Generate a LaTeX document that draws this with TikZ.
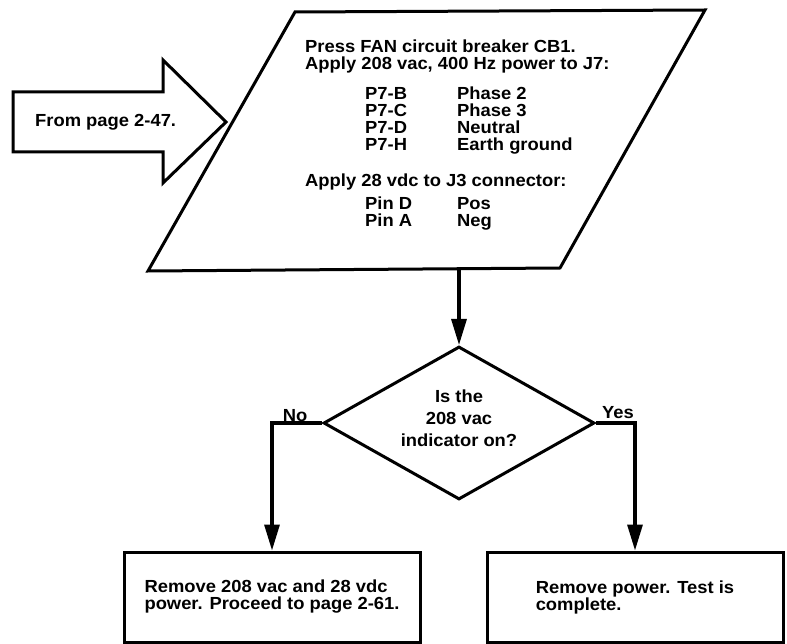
\documentclass[tikz,border=0pt]{standalone}
\usepackage{fontspec}
\setmainfont{Liberation Sans}[FakeStretch=1.05]
\usetikzlibrary{arrows.meta,shapes.geometric}
\begin{document}
\begin{tikzpicture}[x=1pt,y=-1pt,
  outline/.style={draw=black,line width=3pt,line join=miter},
  txt/.style={inner sep=0pt,font=\fontsize{17.5}{18}\bfseries},
  rowtxt/.style={txt,anchor=base west},
  flow/.style={draw=black,line width=3.2pt,-{Triangle[length=26pt,width=15pt]}},
  decision/.style={outline,diamond,minimum width=271pt,minimum height=153pt,inner sep=0pt},
  stepbox/.style={outline,rectangle,minimum width=296pt,minimum height=90pt,
    inner sep=0pt,align=left,font=\fontsize{17.5}{17}\bfseries},
  branch/.style={inner sep=0pt,anchor=base,font=\fontsize{17.5}{18}\bfseries}
]
\useasboundingbox (0,0) rectangle (787,644);

% entry arrow
\draw[outline] (13,92) -- (163,92) -- (163,60) -- (226,122) -- (163,183)
  -- (163,152) -- (13,152) -- cycle;
\node[txt,anchor=west] (from) at (35,122) {From page 2-47.};

% input/setup parallelogram
\draw[outline] (295,12) -- (705,10) -- (560,268) -- (148,271) -- cycle;
\coordinate (pout) at (459,269);

\node[rowtxt] (l1) at (305,53) {Press FAN circuit breaker CB1.};
\node[rowtxt] (l2) at (305,70) {Apply 208 vac, 400 Hz power to J7:};
\node[rowtxt] (pb) at (365,100) {\makebox[92pt][l]{P7-B}Phase 2};
\node[rowtxt] (pc) at (365,117) {\makebox[92pt][l]{P7-C}Phase 3};
\node[rowtxt] (pd) at (365,134) {\makebox[92pt][l]{P7-D}Neutral};
\node[rowtxt] (ph) at (365,151) {\makebox[92pt][l]{P7-H}Earth ground};
\node[rowtxt] (l3) at (305,187) {Apply 28 vdc to J3 connector:};
\node[rowtxt] (pind) at (365,210) {\makebox[92pt][l]{Pin D}Pos};
\node[rowtxt] (pina) at (365,227) {\makebox[92pt][l]{Pin A}Neg};

% decision
\node[decision] (dec) at (459,423) {};
\node[txt,align=center,font=\fontsize{17.5}{22}\bfseries] (q) at (459,418)
  {Is the\\208 vac\\indicator on?};

% outcomes
\node[stepbox] (nobox) at (272,597)
  {Remove 208 vac and 28 vdc\\power. Proceed to page 2-61.};
\node[stepbox] (yesbox) at (635,597)
  {Remove power. Test is\\complete.};

% connectors
\draw[flow] (pout) -- (dec.north);
\draw[flow] (dec.west) -| (nobox.north);
\draw[flow] (dec.east) -| (yesbox.north);
\node[branch] (nolbl) at (295,421) {No};
\node[branch] (yeslbl) at (618,418) {Yes};
\end{tikzpicture}
\end{document}
